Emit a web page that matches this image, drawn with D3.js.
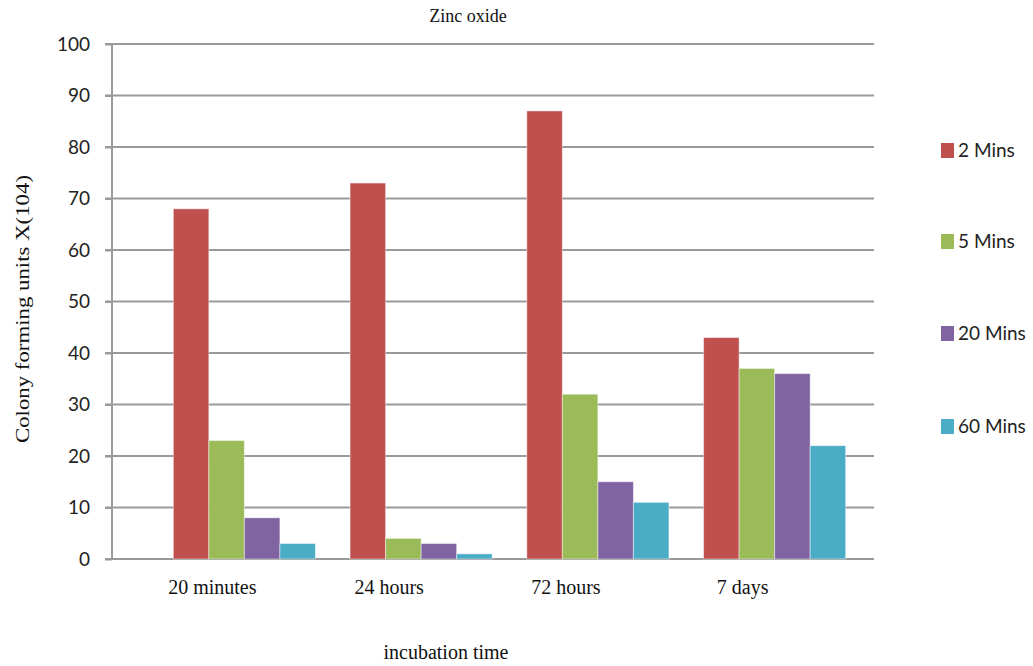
<!DOCTYPE html>
<html><head><meta charset="utf-8">
<script src="https://cdn.jsdelivr.net/npm/d3@7"></script>
<style>body{margin:0;background:#fff}svg{display:block}</style>
</head><body>
<svg id="c" width="1033" height="666"></svg>
<script>
const categories = ["20 minutes", "24 hours", "72 hours", "7 days"];
const seriesNames = ["2 Mins", "5 Mins", "20 Mins", "60 Mins"];
const s2 = [68, 73, 87, 43];
const s5 = [23, 4, 32, 37];
const s20 = [8, 3, 15, 36];
const s60 = [3, 1, 11, 22];
const colors = ["#C0504D", "#9BBB59", "#8064A2", "#4BACC6"];
const yTicks = [0,10,20,30,40,50,60,70,80,90,100];
const title = "Zinc oxide";
const xTitle = "incubation time";
const yTitle = "Colony forming units X(104)";

const series = [s2, s5, s20, s60];
const svg = d3.select("#c");
const sans = "Lato, 'Open Sans', sans-serif";
const serif = "'Liberation Serif', 'DejaVu Serif', serif";

const y = d3.scaleLinear().domain([0, 100]).range([559, 44]);
const x0 = d3.scaleBand().domain(categories).range([156, 863]).paddingInner(0.196).paddingOuter(0.098);
const x1 = d3.scaleBand().domain(seriesNames).range([0, x0.bandwidth()]);

// grid
svg.append("g").selectAll("line").data(yTicks).join("line")
  .attr("x1", 105).attr("x2", 874)
  .attr("y1", d => y(d)).attr("y2", d => y(d))
  .attr("stroke", "#9a9a9a").attr("stroke-width", 2);

// y axis
const ya = svg.append("g").attr("transform", "translate(112,0)")
  .call(d3.axisLeft(y).tickValues(yTicks).tickSize(7).tickPadding(15));
ya.select(".domain").attr("stroke", "#9a9a9a").attr("stroke-width", 2).attr("d", `M0,${y(100)}V${y(0)}`);
ya.selectAll(".tick line").attr("stroke", "#9a9a9a").attr("stroke-width", 2);
ya.selectAll("text").attr("font-family", sans).attr("font-size", 19).attr("fill", "#222");

// bars
const groups = svg.append("g").selectAll("g").data(categories).join("g")
  .attr("transform", d => `translate(${x0(d)},0)`);
groups.selectAll("rect").data((c, i) => series.map((s, k) => ({name: seriesNames[k], v: s[i], k})))
  .join("rect")
  .attr("x", d => x1(d.name)).attr("width", x1.bandwidth())
  .attr("y", d => y(d.v)).attr("height", d => y(0) - y(d.v))
  .attr("fill", d => colors[d.k])
  .attr("stroke", "rgba(255,255,255,0.45)").attr("stroke-width", 1);

// x labels
svg.append("g").selectAll("text").data(categories).join("text")
  .attr("x", d => x0(d) + x0.bandwidth() / 2 - 32)
  .attr("y", 594)
  .attr("text-anchor", "middle")
  .attr("font-family", serif).attr("font-size", 20).attr("fill", "#111")
  .text(d => d);

// titles
svg.append("text").attr("x", 468).attr("y", 22).attr("text-anchor", "middle")
  .attr("font-family", serif).attr("font-size", 18).attr("fill", "#111").text(title);
svg.append("text").attr("x", 446).attr("y", 659).attr("text-anchor", "middle")
  .attr("font-family", serif).attr("font-size", 20).attr("fill", "#111").text(xTitle);
svg.append("text").attr("transform", "translate(29,309) rotate(-90)").attr("text-anchor", "middle")
  .attr("font-family", serif).attr("font-size", 18).attr("fill", "#111")
  .attr("textLength", 268).attr("lengthAdjust", "spacingAndGlyphs").text(yTitle);

// legend
const legY = [150, 241, 333, 426];
const lg = svg.append("g").selectAll("g").data(seriesNames).join("g")
  .attr("transform", (d, i) => `translate(941,${legY[i]})`);
lg.append("rect").attr("x", 0).attr("y", -7).attr("width", 13).attr("height", 15)
  .attr("fill", (d, i) => colors[i]);
lg.append("text").attr("x", 17).attr("y", 7).attr("font-family", sans).attr("font-size", 19)
  .attr("fill", "#222").text(d => d);
</script>
</body></html>
